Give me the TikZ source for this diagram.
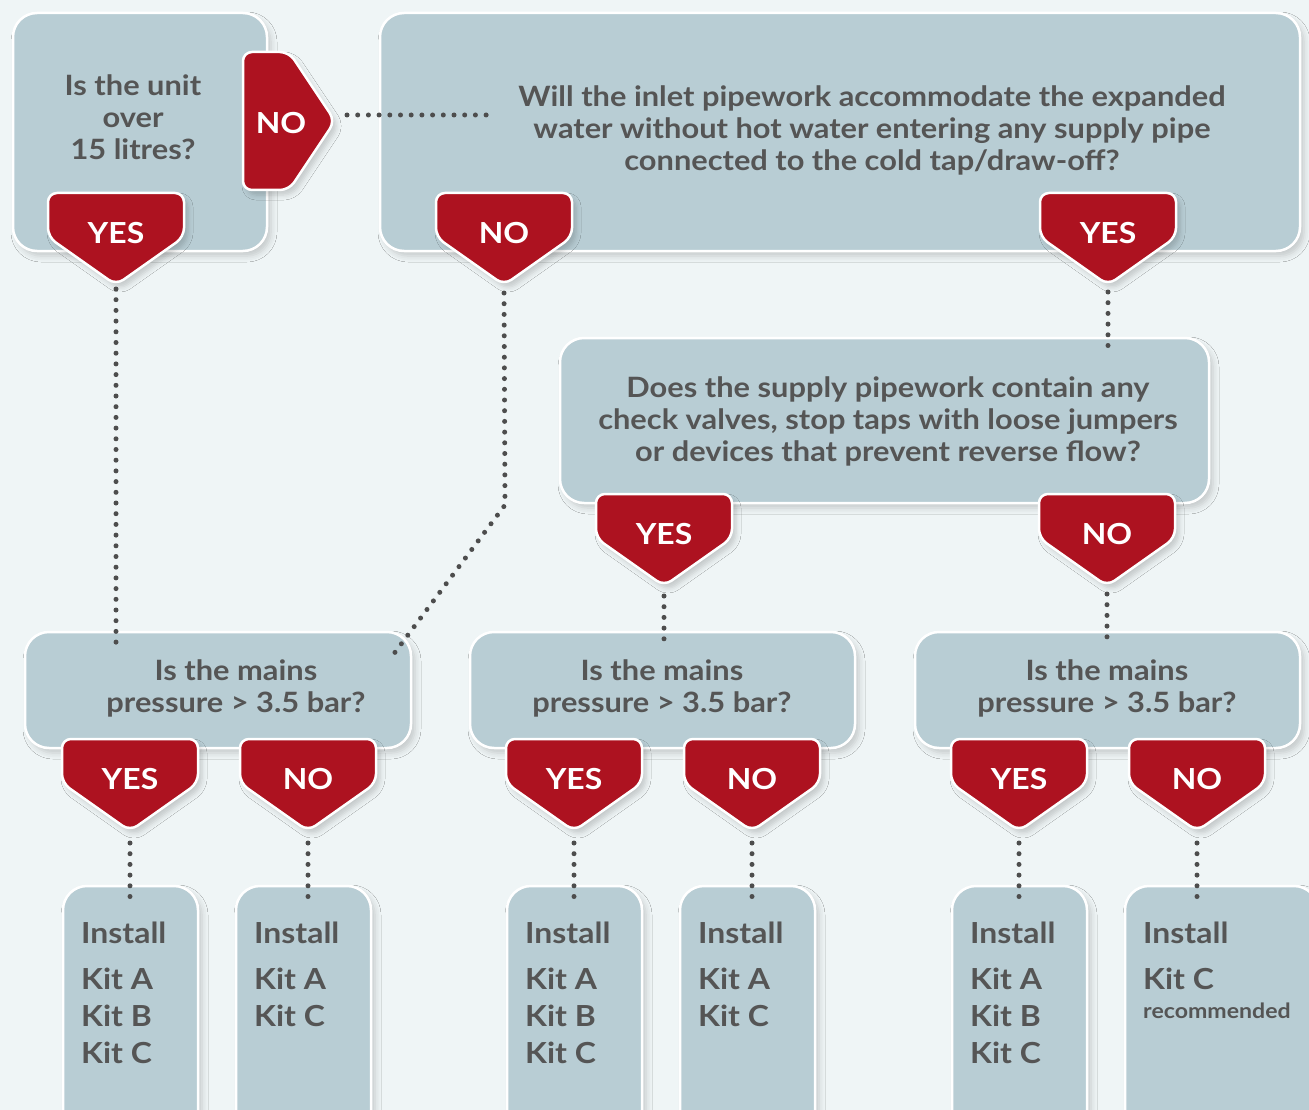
\documentclass[tikz,border=0pt]{standalone}
\usepackage{fontspec}
\setmainfont{Lato}[FakeStretch=1.1]
\usetikzlibrary{shadows.blur,calc}

\definecolor{bgc}{HTML}{EFF5F6}
\definecolor{boxc}{HTML}{B8CDD4}
\definecolor{redc}{HTML}{AD1220}
\definecolor{txtc}{HTML}{555555}
\definecolor{dotc}{HTML}{4D4D4D}

% down pointing answer tag: name, centre x, top y, label
\newcommand{\badgedown}[4]{%
  \filldraw[badge] (#2-68,#3) -- (#2+68,#3) -- (#2+68,#3+44) -- (#2,#3+92) -- (#2-68,#3+44) -- cycle;
  \node[badgetxt] (#1) at (#2,#3+40) {#4};
  \coordinate (#1-tip) at (#2,#3+92);
}

\begin{document}
\begin{tikzpicture}[x=1pt,y=-1pt,
    qbox/.style={rectangle, rounded corners=24pt, fill=boxc, draw=white, line width=2.5pt,
      blur shadow={shadow xshift=4pt, shadow yshift=-5pt, shadow blur radius=6pt, shadow opacity=18}},
    badge/.style={fill=redc, draw=white, line width=2.5pt, rounded corners=9pt,
      blur shadow={shadow xshift=4pt, shadow yshift=-5pt, shadow blur radius=5pt, shadow opacity=18}},
    badgetxt/.style={text=white, font=\bfseries\fontsize{29}{32}\selectfont, inner sep=0pt},
    qtxt/.style={text=txtc, font=\bfseries\fontsize{28}{32}\selectfont, align=center, inner sep=0pt},
    kittxt/.style={text=txtc, font=\bfseries\fontsize{29}{37}\selectfont, align=left, anchor=north west, inner sep=0pt},
    dots/.style={draw=dotc, line width=5pt, line cap=round, dash pattern=on 0pt off 10.7pt},
    into/.style={shorten >=-16pt}]
  \useasboundingbox (0,0) rectangle (1309,1110);
  \fill[bgc] (0,0) rectangle (1309,1110);
  \clip (0,0) rectangle (1309,1110);

  % question boxes
  \node[qbox, minimum width=254pt, minimum height=238pt] (q1) at (140,132) {};
  \node[qbox, minimum width=920pt, minimum height=238pt] (q2) at (840,132) {};
  \node[qbox, minimum width=649pt, minimum height=165pt] (q3) at (884.5,420.5) {};
  \node[qbox, minimum width=386pt, minimum height=116pt] (q4a) at (218,690) {};
  \node[qbox, minimum width=385pt, minimum height=116pt] (q4b) at (662.5,690) {};
  \node[qbox, minimum width=385pt, minimum height=116pt] (q4c) at (1107.5,690) {};

  % kit boxes
  \foreach \k/\x/\w in {k1/130.5/135, k2/303.5/135, k3/574.5/135, k4/747.5/135, k5/1019.5/135, k6/1221.5/193}
    \node[qbox, minimum width=\w pt, minimum height=264pt] (\k) at (\x,1018) {};

  \node[qtxt] (q1txt) at (133,117) {Is the unit\\over\\15 litres?};
  \node[qtxt] (q2txt) at (872,130) {Will the inlet pipework accommodate the expanded\\water without hot water entering any supply pipe\\connected to the cold tap/draw-off?};
  \node[qtxt] (q3txt) at (888,421) {Does the supply pipework contain any\\check valves, stop taps with loose jumpers\\or devices that prevent reverse flow?};
  \foreach \n/\x in {q4a/236, q4b/662, q4c/1107}
    \node[qtxt] (\n-txt) at (\x,688) {Is the mains\\pressure > 3.5 bar?};

  \node[kittxt] (k1txt) at (81,922) {Install\\[9pt]Kit A\\Kit B\\Kit C};
  \node[kittxt] (k2txt) at (254,922) {Install\\[9pt]Kit A\\Kit C};
  \node[kittxt] (k3txt) at (525,922) {Install\\[9pt]Kit A\\Kit B\\Kit C};
  \node[kittxt] (k4txt) at (698,922) {Install\\[9pt]Kit A\\Kit C};
  \node[kittxt] (k5txt) at (970,922) {Install\\[9pt]Kit A\\Kit B\\Kit C};
  \node[kittxt] (k6txt) at (1143,922) {Install\\[9pt]Kit C\\[-8pt]{\fontsize{21}{24}\selectfont recommended}};

  % answer tags
  \filldraw[badge] (243,52) -- (289,52) -- (335,121) -- (289,190) -- (243,190) -- cycle;
  \node[badgetxt] (n1) at (281,123) {NO};
  \coordinate (n1-tip) at (335,121);
  \foreach \nm/\x/\y/\t in {y1/116/193/YES, n2/504/193/NO, y2/1108/193/YES, y3/664/494/YES, n3/1107/494/NO,
      y4a/130/739/YES, n4a/308/739/NO, y4b/574/739/YES, n4b/752/739/NO, y4c/1019/739/YES, n4c/1197/739/NO}
    \badgedown{\nm}{\x}{\y}{\t};

  % dotted links
  \coordinate (q2in) at (487,115);
  \coordinate (bend) at (505,505);
  \coordinate (q4ain) at (393,655);
  \draw[dots, shorten <=12pt] (n1-tip |- q2in) -- (q2in);
  \draw[dots, shorten <=4pt, into] (y1-tip) -- (y1-tip |- q4a.north);
  \draw[dots, shorten <=8pt] (n2-tip) -- (bend) -- (q4ain);
  \draw[dots, shorten <=7pt, into] (y2-tip) -- (y2-tip |- q3.north);
  \draw[dots, shorten <=10pt, into] (y3-tip) -- (y3-tip |- q4b.north);
  \draw[dots, shorten <=8pt, into] (n3-tip) -- (n3-tip |- q4c.north);
  \foreach \b/\k in {y4a/k1, n4a/k2, y4b/k3, n4b/k4, y4c/k5, n4c/k6}
    \draw[dots, shorten <=12pt, into] (\b-tip) -- (\b-tip |- \k.north);
\end{tikzpicture}
\end{document}
